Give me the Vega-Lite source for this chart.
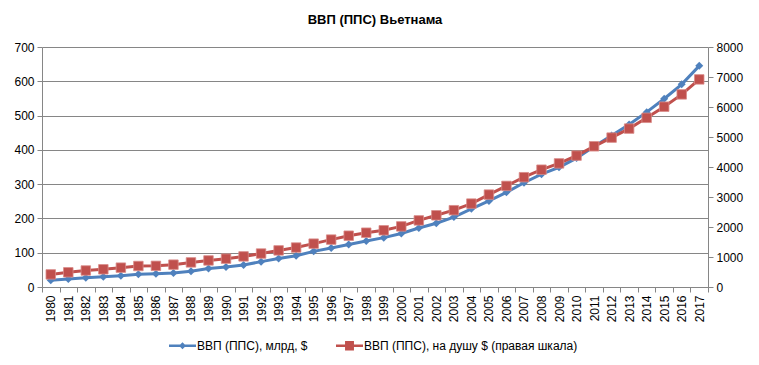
{
  "$schema": "https://vega.github.io/schema/vega-lite/v6.json",
  "width": 666,
  "height": 240,
  "autosize": {"type": "none"},
  "padding": {"left": 42, "top": 47, "right": 51, "bottom": 78},
  "background": "white",
  "title": {"text": "ВВП (ППС) Вьетнама", "font": "Liberation Sans", "fontSize": 13, "fontWeight": "bold", "offset": 14, "anchor": "middle", "color": "#000000"},
  "config": {
    "view": {"stroke": null},
    "font": "Liberation Sans",
    "axis": {"labelFont": "Liberation Sans", "labelFontSize": 12, "labelColor": "#000000", "domainColor": "#868686", "tickColor": "#868686", "gridColor": "#868686", "tickSize": 5, "titleFontSize": 11},
    "legend": {"layout": {"bottom": {"anchor": "middle"}}}
  },
  "data": {"values": [
    {"year": "1980", "gdp": 19.5, "pc": 420},
    {"year": "1981", "gdp": 23, "pc": 490},
    {"year": "1982", "gdp": 27, "pc": 550},
    {"year": "1983", "gdp": 30, "pc": 590},
    {"year": "1984", "gdp": 33, "pc": 645},
    {"year": "1985", "gdp": 37, "pc": 700},
    {"year": "1986", "gdp": 39, "pc": 705},
    {"year": "1987", "gdp": 41, "pc": 745},
    {"year": "1988", "gdp": 46, "pc": 820},
    {"year": "1989", "gdp": 54, "pc": 885},
    {"year": "1990", "gdp": 58, "pc": 945},
    {"year": "1991", "gdp": 64, "pc": 1020},
    {"year": "1992", "gdp": 74, "pc": 1115},
    {"year": "1993", "gdp": 83, "pc": 1220},
    {"year": "1994", "gdp": 91, "pc": 1315},
    {"year": "1995", "gdp": 104, "pc": 1445},
    {"year": "1996", "gdp": 114, "pc": 1580},
    {"year": "1997", "gdp": 124, "pc": 1710},
    {"year": "1998", "gdp": 134, "pc": 1810},
    {"year": "1999", "gdp": 144, "pc": 1890},
    {"year": "2000", "gdp": 156, "pc": 2020},
    {"year": "2001", "gdp": 172, "pc": 2220},
    {"year": "2002", "gdp": 186, "pc": 2390},
    {"year": "2003", "gdp": 204, "pc": 2560},
    {"year": "2004", "gdp": 228, "pc": 2780},
    {"year": "2005", "gdp": 251, "pc": 3080},
    {"year": "2006", "gdp": 276, "pc": 3370},
    {"year": "2007", "gdp": 304, "pc": 3660},
    {"year": "2008", "gdp": 329, "pc": 3910},
    {"year": "2009", "gdp": 349, "pc": 4120},
    {"year": "2010", "gdp": 376, "pc": 4380},
    {"year": "2011", "gdp": 410, "pc": 4690},
    {"year": "2012", "gdp": 442, "pc": 4980},
    {"year": "2013", "gdp": 474, "pc": 5280},
    {"year": "2014", "gdp": 510, "pc": 5640},
    {"year": "2015", "gdp": 549, "pc": 6010},
    {"year": "2016", "gdp": 591, "pc": 6420},
    {"year": "2017", "gdp": 645, "pc": 6920}
  ]},
  "encoding": {
    "x": {
      "field": "year", "type": "ordinal", "bandPosition": 0.5,
      "scale": {"type": "band", "paddingInner": 0, "paddingOuter": 0},
      "axis": {"title": null, "labelAngle": -90, "tickBand": "extent", "labelPadding": 3, "grid": false}
    }
  },
  "layer": [
    {
      "encoding": {
        "y": {"field": "gdp", "type": "quantitative", "scale": {"domain": [0, 700], "nice": false},
          "axis": {"orient": "left", "title": null, "values": [0, 100, 200, 300, 400, 500, 600, 700], "grid": true, "labelPadding": 3}},
        "color": {"datum": "ВВП (ППС), млрд, $", "type": "nominal",
          "scale": {"domain": ["ВВП (ППС), млрд, $", "ВВП (ППС), на душу $ (правая  шкала)"], "range": ["#4F81BD", "#C0504D"]},
          "legend": {
            "title": null, "orient": "bottom", "direction": "horizontal", "offset": 10,
            "labelFont": "Liberation Sans", "labelFontSize": 12, "labelColor": "#000000", "labelOffset": 1, "labelLimit": 0,
            "columnPadding": 28, "symbolSize": 729,
            "encode": {"symbols": {"update": {
              "shape": {"signal": "datum.value === 'ВВП (ППС), млрд, $' ? 'M-1,-0.1H1V0.1H-1Z M0,-0.26L0.26,0L0,0.26L-0.26,0Z' : 'M-1,-0.1H1V0.1H-1Z M-0.33,-0.35H0.33V0.35H-0.33Z'"},
              "fill": {"signal": "datum.value === 'ВВП (ППС), млрд, $' ? '#4F81BD' : '#C0504D'"},
              "strokeWidth": {"value": 0},
              "opacity": {"value": 1}
            }}}
          }}
      },
      "layer": [
        {"mark": {"type": "line", "strokeWidth": 3}},
        {"mark": {"type": "point", "shape": "diamond", "filled": true, "size": 64, "opacity": 1}}
      ]
    },
    {
      "encoding": {
        "y": {"field": "pc", "type": "quantitative", "scale": {"domain": [0, 8000], "nice": false},
          "axis": {"orient": "right", "title": null, "format": "d", "values": [0, 1000, 2000, 3000, 4000, 5000, 6000, 7000, 8000], "grid": false, "labelPadding": 3}},
        "color": {"datum": "ВВП (ППС), на душу $ (правая  шкала)", "type": "nominal"}
      },
      "layer": [
        {"mark": {"type": "line", "strokeWidth": 3}},
        {"mark": {"type": "point", "shape": "square", "filled": true, "size": 90, "opacity": 1, "stroke": "#D98A88", "strokeWidth": 0.8}}
      ]
    }
  ],
  "resolve": {"scale": {"y": "independent"}}
}
